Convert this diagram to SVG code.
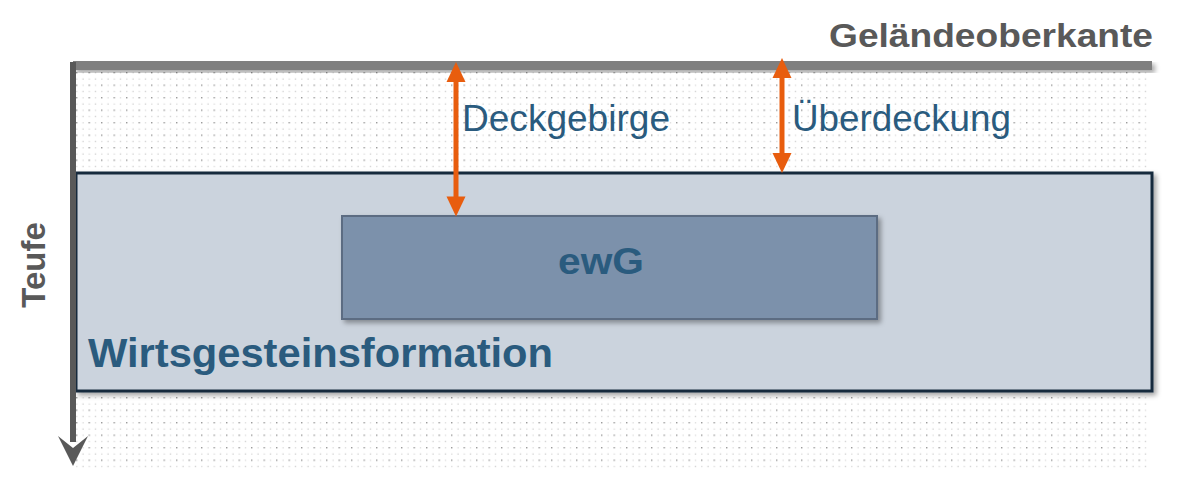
<svg xmlns="http://www.w3.org/2000/svg" width="1179" height="497" viewBox="0 0 1179 497">
  <defs>
    <pattern id="dots" x="76" y="72" width="12.5" height="12.5" patternUnits="userSpaceOnUse">
      <rect x="0" y="0" width="1.4" height="1.4" fill="#9a9a9a"/>
      <rect x="6.6" y="0.2" width="0.7" height="1.2" fill="#b5b5b5"/>
      <rect x="0.2" y="6.6" width="1.2" height="0.7" fill="#b5b5b5"/>
      <rect x="6.5" y="6.5" width="1" height="1" fill="#a8a8a8"/>
    </pattern>
    <filter id="shadow" x="-5%" y="-20%" width="112%" height="150%">
      <feGaussianBlur in="SourceAlpha" stdDeviation="2.5"/>
      <feOffset dx="3" dy="3" result="b"/>
      <feFlood flood-color="#000" flood-opacity="0.35"/>
      <feComposite in2="b" operator="in"/>
      <feMerge><feMergeNode/><feMergeNode in="SourceGraphic"/></feMerge>
    </filter>
    <style>
      .blue{fill:#2a5b7e;font-family:"Liberation Sans",Arial,sans-serif}
      .gray{fill:#595959;font-family:"Liberation Sans",Arial,sans-serif;font-weight:bold}
      .oline{stroke:#e85d0e;stroke-width:5;fill:none}
      .ohead{fill:#e85d0e}
    </style>
  </defs>

  <rect width="1179" height="497" fill="#ffffff"/>

  <g id="ground-fill">
    <rect x="76" y="70" width="1074" height="398" fill="url(#dots)"/>
  </g>

  <g id="gelaendeoberkante">
    <rect x="73" y="61" width="1079" height="9" fill="#7f7f7f" filter="url(#shadow)"/>
    <text class="gray" x="829" y="47" font-size="34" textLength="324" lengthAdjust="spacingAndGlyphs">Geländeoberkante</text>
  </g>

  <g id="wirtsgestein">
    <rect x="76" y="173" width="1076" height="218" fill="#cbd3dd" stroke="#172b3d" stroke-width="3" filter="url(#shadow)"/>
    <text class="blue" x="88" y="367" font-size="40" font-weight="bold" textLength="465" lengthAdjust="spacingAndGlyphs">Wirtsgesteinsformation</text>
  </g>

  <g id="ewg">
    <rect x="342" y="216" width="535" height="103" fill="#7b91ab" stroke="#5b6c82" stroke-width="2" filter="url(#shadow)"/>
    <text class="blue" x="558" y="274" font-size="36" font-weight="bold" textLength="86" lengthAdjust="spacingAndGlyphs">ewG</text>
  </g>

  <g id="teufe">
    <rect x="70" y="62" width="6" height="380" fill="#595959"/>
    <path d="M73,466 L58,436 L73,448 L88,436 Z" fill="#595959"/>
    <text class="gray" transform="translate(45,265) rotate(-90)" text-anchor="middle" font-size="33">Teufe</text>
  </g>

  <g id="connectors">
    <line class="oline" x1="456" y1="78" x2="456" y2="200"/>
    <path class="ohead" d="M456,62 L465.5,82 L446.5,82 Z"/>
    <path class="ohead" d="M456,216.5 L465.5,196.5 L446.5,196.5 Z"/>
    <line class="oline" x1="782" y1="74" x2="782" y2="157"/>
    <path class="ohead" d="M782,58 L791.5,78 L772.5,78 Z"/>
    <path class="ohead" d="M782,173 L791.5,153 L772.5,153 Z"/>
  </g>

  <g id="labels">
    <text class="blue" x="462" y="131" font-size="36" textLength="208" lengthAdjust="spacingAndGlyphs">Deckgebirge</text>
    <text class="blue" x="792" y="131" font-size="36" textLength="219" lengthAdjust="spacingAndGlyphs">Überdeckung</text>
  </g>
</svg>
